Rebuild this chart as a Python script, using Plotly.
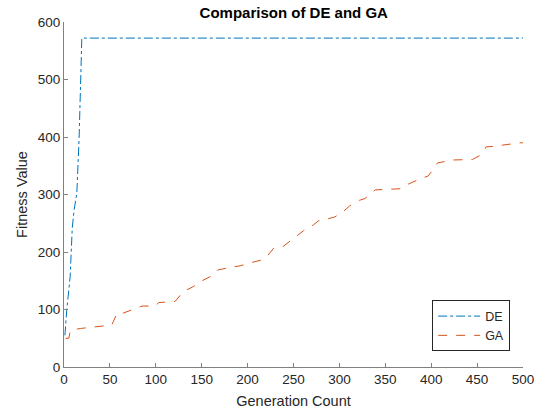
import plotly.graph_objects as go

# Best fitness per generation (DE converges early, GA climbs steadily)
de_gen = [1, 3, 6.7, 9, 11, 14, 16.5, 19.4, 500]
de_fit = [55, 99, 157, 242, 273, 303, 400, 572, 572]

ga_gen = [1.6, 5.2, 7, 18, 52, 58, 65, 74, 85, 99.5, 103, 121, 125, 130, 141, 148,
          159, 168, 181, 192, 205, 215, 221, 228, 239, 248, 255, 261, 271.5, 277,
          286, 295, 304, 311, 322, 328, 335, 339, 366, 375, 389, 396.5, 402, 407,
          424, 445, 454.5, 460, 472.6, 478, 498, 500]
ga_fit = [50, 50, 64, 67, 73, 94, 94, 99, 106, 106, 112, 114, 122, 131, 140, 148,
          157, 169, 173, 176, 182, 186, 192, 206, 210, 221, 231, 237, 247, 254,
          257, 261, 270, 280, 290, 293, 303, 308, 310, 318, 328, 332, 343, 355,
          360, 361, 369, 383, 384, 386, 390, 390]

x_ticks = list(range(0, 501, 50))
y_ticks = list(range(0, 601, 100))

FONT = "Liberation Sans, Arial, sans-serif"
AXIS_COLOR = "#262626"

fig = go.Figure()
fig.add_trace(go.Scatter(
    x=de_gen, y=de_fit, mode="lines", name="DE",
    line=dict(color="#0072BD", width=1, dash="dashdot"),
))
fig.add_trace(go.Scatter(
    x=ga_gen, y=ga_fit, mode="lines", name="GA",
    line=dict(color="#D95319", width=1, dash="dash"),
))

axis_common = dict(
    showgrid=False, zeroline=False, showline=True, linecolor="#808080",
    linewidth=1, ticks="inside", ticklen=4, tickcolor="#808080",
    tickfont=dict(family=FONT, size=13.5, color=AXIS_COLOR),
    automargin=False,
)

fig.update_layout(
    width=539, height=412,
    margin=dict(l=64, r=16, t=22, b=45),
    paper_bgcolor="white", plot_bgcolor="white",
    title=dict(text="<b>Comparison of DE and GA</b>", x=0.545, xanchor="center",
               y=0.968, yanchor="middle",
               font=dict(family=FONT, size=15, color="black")),
    xaxis=dict(range=[0, 500], tickvals=x_ticks,
               title=dict(text="Generation Count", standoff=9,
                          font=dict(family=FONT, size=14.5, color=AXIS_COLOR)),
               **axis_common),
    yaxis=dict(range=[0, 600], tickvals=y_ticks,
               title=dict(text="Fitness Value", standoff=6,
                          font=dict(family=FONT, size=14.5, color=AXIS_COLOR)),
               **axis_common),
    legend=dict(x=0.972, y=0.045, xanchor="right", yanchor="bottom",
                bgcolor="white", bordercolor=AXIS_COLOR, borderwidth=1,
                font=dict(family=FONT, size=12.5, color=AXIS_COLOR),
                tracegroupgap=0, itemwidth=42),
    showlegend=True,
)

fig.write_html("out.html")
